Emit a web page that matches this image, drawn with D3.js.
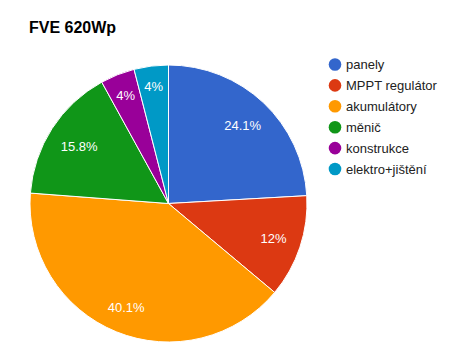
<!DOCTYPE html>
<html>
<head>
<meta charset="utf-8">
<script src="https://cdn.jsdelivr.net/npm/d3@7"></script>
<style>
body { margin: 0; background: #fff; }
svg { display: block; font-family: Arial, "Liberation Sans", sans-serif; }
</style>
</head>
<body>
<svg></svg>
<script>
const categories = ["panely", "MPPT regulátor", "akumulátory", "měnič", "konstrukce", "elektro+jištění"];
const values = [24.1, 12, 40.1, 15.8, 4, 4];
const labels = ["24.1%", "12%", "40.1%", "15.8%", "4%", "4%"];
const colors = ["#3366cc", "#dc3912", "#ff9900", "#109618", "#990099", "#0099c6"];

const SVGsize = { w: 457, h: 364 };
const center = { x: 168.5, y: 203.5 };
const radius = 138.5;

const svg = d3.select("svg").attr("width", SVGsize.w).attr("height", SVGsize.h);

svg.append("text")
	.attr("x", 29)
	.attr("y", 33)
	.attr("font-size", 16)
	.attr("font-weight", "bold")
	.attr("fill", "#000")
	.text("FVE 620Wp");

const data = categories.map((c, i) => ({ name: c, value: values[i], label: labels[i], color: colors[i] }));

const pie = d3.pie().sort(null).value((d) => d.value);
const arc = d3.arc().innerRadius(0).outerRadius(radius);

const pieG = svg.append("g").attr("transform", `translate(${center.x}, ${center.y})`);

const arcs = pie(data);

pieG.selectAll("path")
	.data(arcs)
	.join("path")
	.attr("d", arc)
	.attr("fill", (d) => d.data.color)
	.attr("stroke", "#fff")
	.attr("stroke-width", 1);

// push each label outward until its box touches 0.9 of the radius
function labelPos(d, w, h) {
	let a = (d.startAngle + d.endAngle) / 2;
	let s = Math.sin(a), c = -Math.cos(a);
	let limit = radius * 0.9;
	let lo = 0, hi = radius;
	for (let k = 0; k < 40; k++) {
		let m = (lo + hi) / 2;
		let x = m * s, y = m * c;
		let far = Math.hypot(Math.abs(x) + w / 2, Math.abs(y) + h / 2);
		if (far > limit) hi = m; else lo = m;
	}
	return [lo * s, lo * c];
}

pieG.selectAll("text")
	.data(arcs)
	.join("text")
	.attr("text-anchor", "middle")
	.attr("dy", "0.36em")
	.attr("font-size", 13)
	.attr("fill", "#fff")
	.text((d) => d.data.label)
	.attr("transform", function (d) {
		let w = this.getComputedTextLength();
		return `translate(${labelPos(d, w, 10)})`;
	});

// legend
const legendY = d3.scalePoint().domain(categories).range([64.5, 169]);

const legendG = svg.append("g");
const item = legendG.selectAll("g")
	.data(data)
	.join("g")
	.attr("transform", (d) => `translate(335, ${legendY(d.name)})`);

item.append("circle")
	.attr("r", 6.3)
	.attr("fill", (d) => d.color);

item.append("text")
	.attr("x", 11)
	.attr("dy", "0.36em")
	.attr("font-size", 13)
	.attr("fill", "#222")
	.text((d) => d.name);
</script>
</body>
</html>
